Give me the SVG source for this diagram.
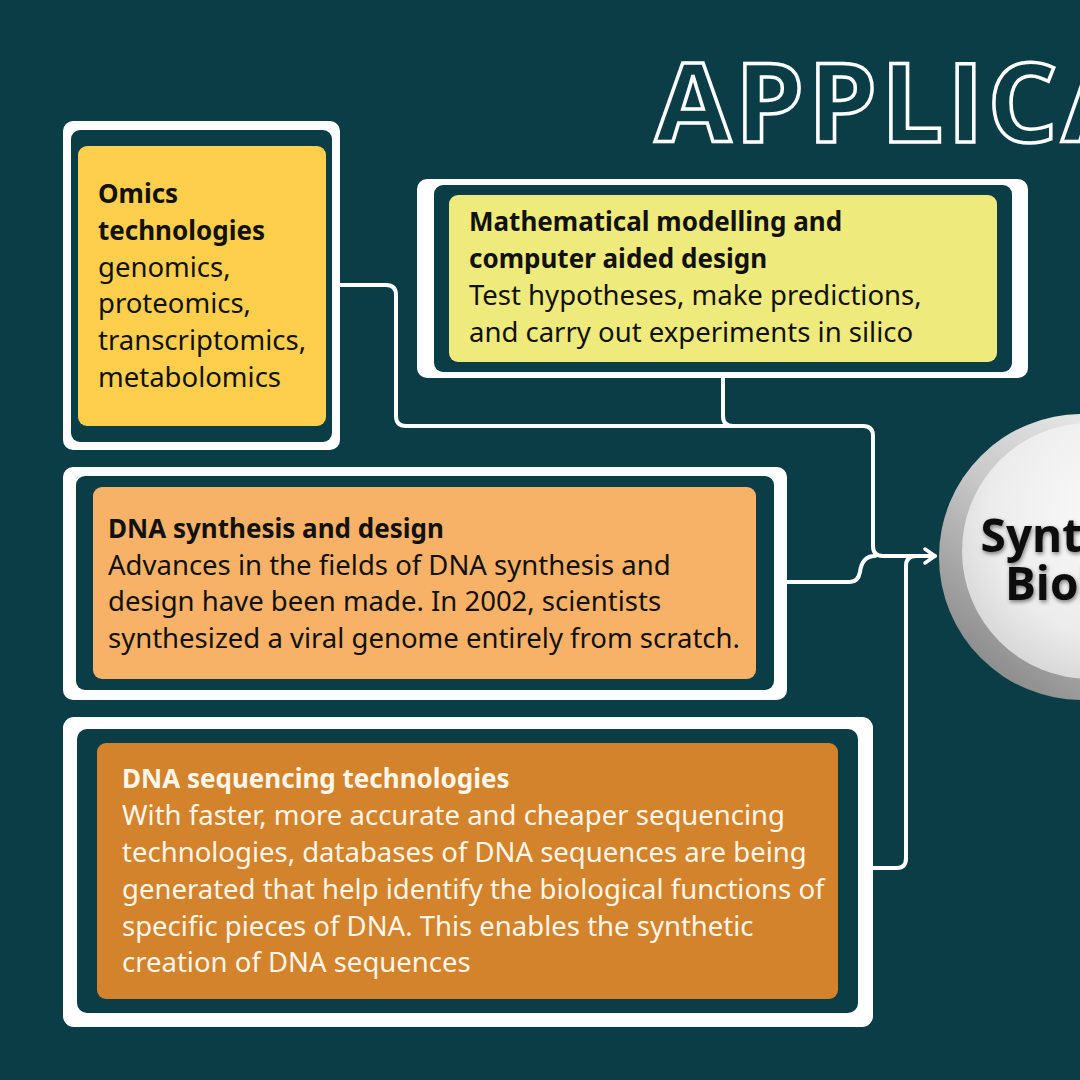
<svg xmlns="http://www.w3.org/2000/svg" width="1080" height="1080" viewBox="0 0 1080 1080">
<defs>
<style>
.frame{fill:#ffffff}
.inner{fill:#0b3d47}
.t{font-family:"Noto Sans","Open Sans","DejaVu Sans",sans-serif;font-size:27.5px;fill:#111111}
.b{font-weight:bold;font-size:26px}
.w{fill:#fdf6ea}
.conn{fill:none;stroke:#ffffff;stroke-width:4;stroke-linecap:round;stroke-linejoin:round}
</style>
<marker id="arrow" viewBox="0 0 14 18" refX="12" refY="9" markerWidth="14" markerHeight="18" markerUnits="userSpaceOnUse" orient="auto">
<path d="M2,2 L12,9 L2,16" fill="none" stroke="#ffffff" stroke-width="3.5" stroke-linecap="round" stroke-linejoin="round"/>
</marker>
<linearGradient id="ring" x1="0.8" y1="0.1" x2="0.2" y2="0.9">
<stop offset="0" stop-color="#eeeeee"/>
<stop offset="0.5" stop-color="#c8c8c8"/>
<stop offset="1" stop-color="#8e8e8e"/>
</linearGradient>
<radialGradient id="face" cx="0.6" cy="0.35" r="0.7">
<stop offset="0" stop-color="#fbfbfb"/>
<stop offset="0.7" stop-color="#ececec"/>
<stop offset="1" stop-color="#d6d6d6"/>
</radialGradient>
<filter id="tshadow" x="-20%" y="-20%" width="140%" height="140%">
<feGaussianBlur in="SourceAlpha" stdDeviation="2"/>
<feOffset dx="1" dy="2" result="o"/>
<feComponentTransfer><feFuncA type="linear" slope="0.5"/></feComponentTransfer>
<feMerge><feMergeNode/><feMergeNode in="SourceGraphic"/></feMerge>
</filter>
</defs>
<rect width="1080" height="1080" fill="#0b3d47"/>

<g id="title">
<text x="655" y="142" font-family="'Open Sans','Noto Sans',sans-serif" font-weight="bold" font-size="110" letter-spacing="4" fill="#0b3d47" stroke="#ffffff" stroke-width="3.5">APPLICATIONS</text>
</g>

<g id="connectors">
<path class="conn" d="M340,285 H386 Q396,285 396,295 V416 Q396,426 406,426 H863 Q873,426 873,436 V546 Q873,556 883,556 H935" marker-end="url(#arrow)"/>
<path class="conn" d="M723,377 V416 Q723,426 733,426"/>
<path class="conn" d="M787,582 H850 Q858,582 860,572 Q862,556 875,556"/>
<path class="conn" d="M873,868 H897 Q906,868 906,858 V566 Q906,556 916,556"/>
</g>

<g id="omics">
<rect class="frame" x="63" y="121" width="277" height="329" rx="10"/>
<rect class="inner" x="71" y="130" width="261" height="312" rx="9"/>
<rect x="78" y="146" width="248" height="280" rx="9" fill="#fdcf4d"/>
<text class="t b" x="98" y="203">Omics</text>
<text class="t b" x="98" y="240">technologies</text>
<text class="t" x="98" y="277">genomics,</text>
<text class="t" x="98" y="313">proteomics,</text>
<text class="t" x="98" y="350">transcriptomics,</text>
<text class="t" x="98" y="387">metabolomics</text>
</g>

<g id="math">
<rect class="frame" x="417" y="179" width="611" height="199" rx="10"/>
<rect class="inner" x="434" y="185" width="578" height="187" rx="9"/>
<rect x="449" y="195" width="548" height="167" rx="9" fill="#eeea7b"/>
<text class="t b" x="469" y="231">Mathematical modelling and</text>
<text class="t b" x="469" y="268">computer aided design</text>
<text class="t" x="469" y="305">Test hypotheses, make predictions,</text>
<text class="t" x="469" y="342">and carry out experiments in silico</text>
</g>

<g id="dna-synthesis">
<rect class="frame" x="63" y="467" width="724" height="233" rx="10"/>
<rect class="inner" x="76" y="476" width="698" height="214" rx="9"/>
<rect x="93" y="487" width="663" height="192" rx="9" fill="#f7b267"/>
<text class="t b" x="108" y="538">DNA synthesis and design</text>
<text class="t" x="108" y="575">Advances in the fields of DNA synthesis and</text>
<text class="t" x="108" y="611">design have been made. In 2002, scientists</text>
<text class="t" x="108" y="648">synthesized a viral genome entirely from scratch.</text>
</g>

<g id="dna-sequencing">
<rect class="frame" x="63" y="717" width="810" height="310" rx="11"/>
<rect class="inner" x="77" y="729" width="781" height="284" rx="10"/>
<rect x="97" y="743" width="741" height="256" rx="9" fill="#d3832b"/>
<text class="t b w" x="122" y="788">DNA sequencing technologies</text>
<text class="t w" x="122" y="825">With faster, more accurate and cheaper sequencing</text>
<text class="t w" x="122" y="862">technologies, databases of DNA sequences are being</text>
<text class="t w" x="122" y="899">generated that help identify the biological functions of</text>
<text class="t w" x="122" y="936">specific pieces of DNA. This enables the synthetic</text>
<text class="t w" x="122" y="972">creation of DNA sequences</text>
</g>

<g id="synthetic-biology">
<circle cx="1082" cy="557" r="143" fill="url(#ring)"/>
<circle cx="1090" cy="551" r="128" fill="url(#face)"/>
<g filter="url(#tshadow)" font-family="'Open Sans','Noto Sans',sans-serif" font-weight="bold" font-size="46" fill="#0a0a0a" text-anchor="middle">
<text x="1089" y="552">Synthetic</text>
<text x="1089" y="600">Biology</text>
</g>
</g>
</svg>
